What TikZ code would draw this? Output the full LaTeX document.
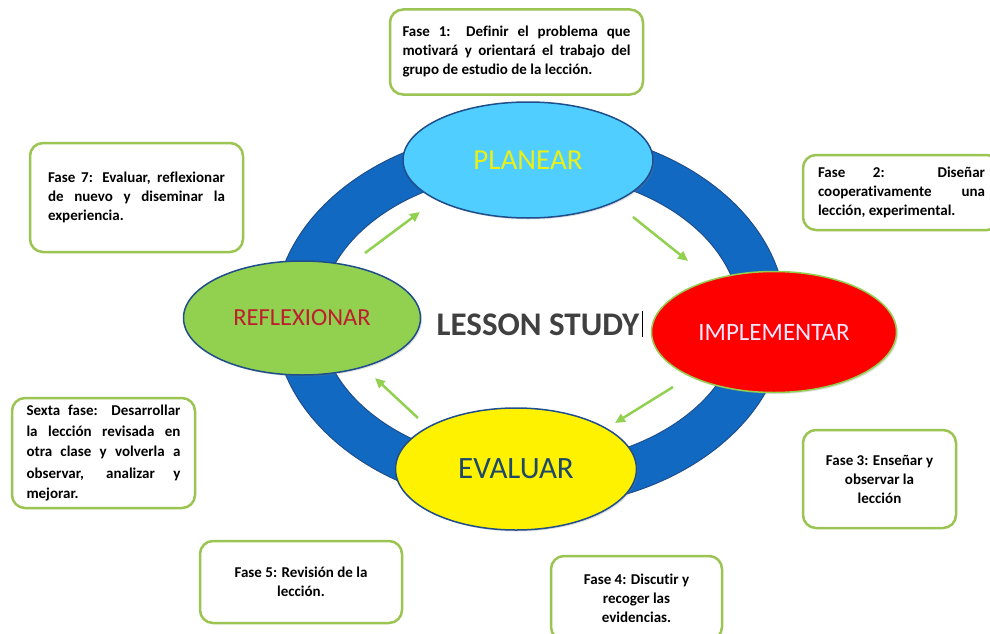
\documentclass[tikz,border=0pt]{standalone}
\usepackage{fontspec}
\setmainfont{Carlito}
\newfontfamily\boxfont[Ligatures=NoCommon]{Carlito}
\usepackage{tikz}
\usetikzlibrary{arrows.meta, positioning, shapes.geometric, shadows}

\definecolor{ringblue}{RGB}{17,105,193}
\definecolor{ringedge}{RGB}{31,78,140}
\definecolor{skyfill}{RGB}{80,206,255}
\definecolor{leafgreen}{RGB}{146,208,80}
\definecolor{boxgreen}{RGB}{155,196,82}
\definecolor{sunyellow}{RGB}{232,240,24}
\definecolor{wine}{RGB}{190,30,45}
\definecolor{lilac}{RGB}{244,232,255}
\definecolor{slatetext}{RGB}{30,72,105}
\definecolor{inkgray}{RGB}{64,64,64}

\hyphenpenalty=10000
\exhyphenpenalty=10000

\begin{document}
\begin{tikzpicture}[
        x=1pt, y=-1pt,
        phase/.style={ellipse, draw=ringedge, line width=1.5pt, inner sep=0pt,
                      drop shadow={opacity=0.25, shadow xshift=1.5pt, shadow yshift=-1.5pt}},
        fase/.style={rectangle, draw=boxgreen, line width=2.5pt, fill=white,
                     rounded corners=13pt, inner sep=0pt,
                     font=\boxfont\bfseries\fontsize{15}{19}\selectfont},
        cycle/.style={draw=leafgreen, line width=2.5pt, -{Triangle[length=10pt, width=9pt]}}
    ]
        \useasboundingbox (0,0) rectangle (990,634);

        % ring
        \coordinate (center) at (530,318);
        \fill[ringblue, draw=ringedge, line width=1pt, even odd rule]
            (center) ellipse [x radius=256, y radius=190]
            (center) ellipse [x radius=210, y radius=146];

        % arrows inside the ring
        \coordinate (a1s) at (365,253);
        \coordinate (a1e) at (420,212);
        \coordinate (a2s) at (633,217);
        \coordinate (a2e) at (688,261);
        \coordinate (a3s) at (673,387);
        \coordinate (a3e) at (615,423);
        \coordinate (a4s) at (418,418);
        \coordinate (a4e) at (375,378);
        \draw[cycle] (a1s) -- (a1e);
        \draw[cycle] (a2s) -- (a2e);
        \draw[cycle] (a3s) -- (a3e);
        \draw[cycle] (a4s) -- (a4e);

        \node[phase, fill=skyfill, minimum width=250pt, minimum height=116pt,
              text=sunyellow, font=\fontsize{29}{30}\selectfont] (planear) at (528,160) {PLANEAR};
        \node[phase, fill=red, draw=leafgreen, minimum width=245pt, minimum height=121pt,
              text=lilac, font=\fontsize{25}{26}\selectfont] (implementar) at (774,332) {IMPLEMENTAR};
        \node[phase, fill=yellow, minimum width=241pt, minimum height=122pt,
              text=slatetext, font=\fontsize{31}{32}\selectfont] (evaluar) at (516,469) {EVALUAR};
        \node[phase, fill=leafgreen, minimum width=237pt, minimum height=114pt,
              text=wine, font=\fontsize{24.5}{26}\selectfont] (reflexionar) at (302,318) {REFLEXIONAR};

        \node[text=inkgray, font=\bfseries\fontsize{33}{36}\selectfont, inner sep=1pt] (lesson) at (538,325) {LESSON STUDY};
        \draw[black, line width=0.8pt] ([xshift=2pt, yshift=2pt]lesson.north east) -- ([xshift=2pt]lesson.south east);

        % phase boxes
        \node[fase, text width=228pt, minimum width=253pt, minimum height=85pt, align=justify] (fase1) at (516.5,52)
            {Fase 1: Definir el problema que\linebreak motivará y orientará el trabajo del\linebreak grupo de estudio de la lección.};
        \node[fase, text width=167pt, minimum width=197pt, minimum height=75pt, align=justify] (fase2) at (901.5,192.5)
            {Fase 2: Diseñar\linebreak cooperativamente una\linebreak lección, experimental.};
        \node[fase, minimum width=153pt, minimum height=98pt, align=center] (fase3) at (879.5,479)
            {Fase 3: Enseñar y\\ observar la\\ lección};
        \node[fase, minimum width=171pt, minimum height=84pt, align=center] (fase4) at (636.5,598)
            {Fase 4: Discutir y\\ recoger las\\ evidencias.};
        \node[fase, minimum width=202pt, minimum height=82pt, align=center] (fase5) at (301,582)
            {Fase 5: Revisión de la\\ lección.};
        \node[fase, text width=154pt, minimum width=183pt, minimum height=110pt, align=justify,
              font=\boxfont\bfseries\fontsize{15}{21}\selectfont] (fase6) at (103.5,453)
            {Sexta fase: Desarrollar\linebreak la lección revisada en\linebreak otra clase y volverla a\linebreak observar, analizar y\linebreak mejorar.};
        \node[fase, text width=177pt, minimum width=213pt, minimum height=109pt, align=justify] (fase7) at (136.5,197.5)
            {Fase 7: Evaluar, reflexionar\linebreak de nuevo y diseminar la\linebreak experiencia.};
    \end{tikzpicture}
\end{document}
